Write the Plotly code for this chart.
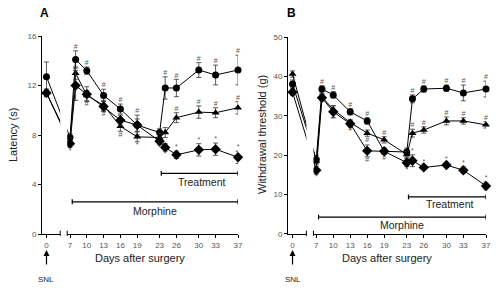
import plotly.graph_objects as go

# ---------------- data ----------------
days = [0, 7, 8, 10, 13, 16, 19, 23, 24, 26, 30, 33, 37]
tick_days = [0, 7, 10, 13, 16, 19, 23, 26, 30, 33, 37]
tick_labels = [str(d) for d in tick_days]

# Panel A: latency (s)
a_circle = [12.7, 7.8, 14.1, 13.2, 11.2, 10.1, 8.8, 8.2, 11.8, 11.8, 13.25, 12.85, 13.25]
a_circle_err = [1.2, 0.3, 0.7, 0.3, 0.5, 0.4, 0.8, 0.3, 0.9, 0.7, 0.6, 0.8, 1.2]
a_tri = [11.4, 7.5, 13.0, 11.2, 10.4, 8.7, 7.85, 7.8, 8.2, 9.4, 9.85, 9.8, 10.2]
a_tri_err = [0.3, 0.3, 0.5, 0.4, 0.4, 0.4, 0.4, 0.3, 0.4, 0.4, 0.5, 0.4, 0.5]
a_dia = [11.4, 7.3, 12.0, 11.3, 10.3, 9.2, 8.8, 7.5, 7.0, 6.4, 6.8, 6.85, 6.2]
a_dia_err = [0.3, 0.3, 1.2, 0.6, 0.4, 0.4, 0.5, 0.3, 0.3, 0.3, 0.5, 0.5, 0.5]

a_circle_sig = ['', '', '#', '#', '#', '#', '#', '', '#', '#', '#', '#', '#']
a_circle_pos = ['t'] * 13
a_tri_sig = ['', '', '', '#', '#', '#', '*', '', '', '#', '#', '#', '#']
a_tri_pos = ['', '', '', 'b', 'b', 'b', 'b', '', '', 't', 't', 't', 't']
a_dia_sig = ['', '*', '', '', '', '', '', '*', '*', '*', '*', '*', '*']
a_dia_pos = ['', 'b', '', '', '', '', '', 'b', 'b', 't', 't', 't', 't']

# Panel B: withdrawal threshold (g)
b_circle = [38.1, 18.9, 36.8, 35.3, 31.0, 28.7, 21.0, 20.8, 34.3, 36.8, 37.0, 35.8, 36.8]
b_circle_err = [1.0, 1.0, 0.8, 0.8, 0.8, 0.8, 0.8, 1.0, 1.0, 0.8, 0.8, 2.0, 2.0]
b_tri = [40.6, 18.5, 34.8, 31.6, 28.3, 25.6, 23.9, 20.2, 25.6, 26.4, 28.7, 28.7, 27.7]
b_tri_err = [0.8, 0.8, 0.8, 1.0, 0.8, 0.8, 0.8, 0.8, 1.0, 0.8, 1.0, 0.8, 0.8]
b_dia = [36.0, 16.2, 34.6, 31.0, 28.0, 21.1, 21.0, 18.1, 18.6, 16.9, 17.5, 16.2, 12.2]
b_dia_err = [0.8, 1.0, 0.8, 1.5, 0.8, 1.5, 0.8, 1.0, 1.5, 0.5, 0.5, 0.8, 1.0]

b_circle_sig = ['', '', '#', '#', '#', '#', '', '', '#', '#', '#', '#', '#']
b_circle_pos = ['t'] * 13
b_tri_sig = ['', '', '', '#', '#', '#', '#', '', '#', '#', '#', '#', '#']
b_tri_pos = ['', '', '', 'b', 'b', 'b', 't', '', 't', 't', 't', 't', 't']
b_dia_sig = ['', '*', '', '', '', '#', '#', '*', '*', '*', '*', '*', '*']
b_dia_pos = ['', 'b', '', '', '', 'b', 'b', 'b', 't', 't', 't', 't', 't']

# brackets (start day, end day)
morphine_span = [7.4, 37]
treatment_span = [23.3, 37]

# ---------------- broken x axis mapping ----------------
X0_POS = 2.8          # plotted position of day 0 (left of the axis break)
BREAK = [5.25, 6.5]   # gap in the axis


def xpos(d):
    return d if d >= 7 else X0_POS + d


xs = [xpos(d) for d in days]
tickvals = [xpos(d) for d in tick_days]

FONT = "Liberation Sans, Arial, sans-serif"
fig = go.Figure()


def add_series(xa, ya, vals, errs, symbol, size, sig, pos):
    fig.add_trace(go.Scatter(
        x=xs, y=vals, xaxis=xa, yaxis=ya, mode='lines+markers',
        line=dict(color='black', width=1),
        marker=dict(symbol=symbol, size=size, color='black'),
        error_y=dict(type='data', array=errs, color='#333', thickness=0.8, width=2.5),
        cliponaxis=False, showlegend=False))
    for p, tp in (('t', 'top center'), ('b', 'bottom center')):
        px, py, pt = [], [], []
        for i in range(len(vals)):
            if sig[i] and pos[i] == p:
                px.append(xs[i])
                py.append(vals[i] + errs[i] if p == 't' else vals[i] - errs[i])
                pt.append(sig[i])
        if px:
            fig.add_trace(go.Scatter(
                x=px, y=py, xaxis=xa, yaxis=ya, mode='text', text=pt,
                textposition=tp, textfont=dict(size=7, color='#555', family=FONT),
                cliponaxis=False, showlegend=False, hoverinfo='skip'))


add_series('x', 'y', a_circle, a_circle_err, 'circle', 7, a_circle_sig, a_circle_pos)
add_series('x', 'y', a_tri, a_tri_err, 'triangle-up', 7, a_tri_sig, a_tri_pos)
add_series('x', 'y', a_dia, a_dia_err, 'diamond', 8, a_dia_sig, a_dia_pos)
add_series('x2', 'y2', b_circle, b_circle_err, 'circle', 7, b_circle_sig, b_circle_pos)
add_series('x2', 'y2', b_tri, b_tri_err, 'triangle-up', 7, b_tri_sig, b_tri_pos)
add_series('x2', 'y2', b_dia, b_dia_err, 'diamond', 8, b_dia_sig, b_dia_pos)

axis_common = dict(showline=True, linecolor='black', linewidth=1, ticks='outside',
                   ticklen=3, tickwidth=1, tickcolor='black', showgrid=False,
                   zeroline=False, automargin=False,
                   tickfont=dict(size=8, color='#555', family=FONT))

fig.update_layout(
    width=500, height=288, margin=dict(l=0, r=0, t=0, b=0, pad=0, autoexpand=False),
    paper_bgcolor='white', plot_bgcolor='white', showlegend=False,
    font=dict(family=FONT, color='black'),
    xaxis=dict(domain=[0.084, 0.476], range=[2, 37], tickvals=tickvals,
               ticktext=tick_labels, anchor='y', **axis_common),
    yaxis=dict(domain=[0.1875, 0.875], range=[0, 16], tickvals=[0, 4, 8, 12, 16],
               anchor='x', **axis_common),
    xaxis2=dict(domain=[0.576, 0.972], range=[2, 37], tickvals=tickvals,
                ticktext=tick_labels, anchor='y2', **axis_common),
    yaxis2=dict(domain=[0.1875, 0.8715], range=[0, 50], tickvals=[0, 10, 20, 30, 40, 50],
                anchor='x2', **axis_common),
)

shapes = []
annotations = []
for xa, ya, cap, mor_y, trt_y, mor_ty, trt_ty in (
        ('x', 'y', 0.2, 2.6, 4.9, 1.85, 4.2),
        ('x2', 'y2', 0.6, 4.3, 9.4, 2.3, 7.6)):
    # axis break: white gap + end marks
    shapes.append(dict(type='rect', xref=xa, yref='paper', x0=BREAK[0], x1=BREAK[1],
                       y0=0.165, y1=0.9, fillcolor='white', line=dict(width=0),
                       layer='above'))
    for bx in BREAK:
        shapes.append(dict(type='line', xref=xa, yref='paper', x0=bx, x1=bx,
                           y0=0.181, y1=0.199, line=dict(color='black', width=1),
                           layer='above'))
    # brackets
    for span, yy in ((morphine_span, mor_y), (treatment_span, trt_y)):
        shapes.append(dict(type='line', xref=xa, yref=ya, x0=span[0], x1=span[1],
                           y0=yy, y1=yy, line=dict(color='black', width=1.2)))
        for ex in span:
            shapes.append(dict(type='line', xref=xa, yref=ya, x0=ex, x1=ex,
                               y0=yy - cap, y1=yy + cap, line=dict(color='black', width=1.2)))
    annotations.append(dict(xref=xa, yref=ya, x=(morphine_span[0] + morphine_span[1]) / 2,
                            y=mor_ty, text='Morphine', showarrow=False,
                            font=dict(size=10.5, color='#222')))
    annotations.append(dict(xref=xa, yref=ya, x=(treatment_span[0] + treatment_span[1]) / 2 + 0.5,
                            y=trt_ty, text='Treatment', showarrow=False,
                            font=dict(size=10.5, color='#222')))
    # SNL arrow
    annotations.append(dict(xref=xa, yref='paper', x=X0_POS, y=0.132, ax=0, ay=16,
                            text='', showarrow=True, arrowhead=2, arrowsize=1,
                            arrowwidth=1.2, arrowcolor='black'))
    annotations.append(dict(xref=xa, yref='paper', x=X0_POS, y=0.031, text='SNL',
                            showarrow=False, font=dict(size=8, color='#222')))

# axis titles and panel letters
annotations += [
    dict(xref='paper', yref='paper', x=140 / 500, y=(288 - 258) / 288, text='Days after surgery',
         showarrow=False, font=dict(size=11, color='#222')),
    dict(xref='paper', yref='paper', x=387 / 500, y=(288 - 258) / 288, text='Days after surgery',
         showarrow=False, font=dict(size=11, color='#222')),
    dict(xref='paper', yref='paper', x=13 / 500, y=(288 - 135) / 288, text='Latency (s)',
         textangle=-90, showarrow=False, font=dict(size=11, color='#222')),
    dict(xref='paper', yref='paper', x=262 / 500, y=(288 - 135) / 288,
         text='Withdrawal threshold (g)', textangle=-90, showarrow=False,
         font=dict(size=11, color='#222')),
    dict(xref='paper', yref='paper', x=44 / 500, y=(288 - 13) / 288, text='<b>A</b>',
         showarrow=False, font=dict(size=12, color='black')),
    dict(xref='paper', yref='paper', x=291 / 500, y=(288 - 13) / 288, text='<b>B</b>',
         showarrow=False, font=dict(size=12, color='black')),
]
for a in annotations:
    a.setdefault('xanchor', 'center')
    a.setdefault('yanchor', 'middle')

fig.update_layout(shapes=shapes, annotations=annotations)
fig.write_html("out.html", config={'displayModeBar': False},
               post_script="document.body.style.margin='0px';document.body.style.padding='0px';")
